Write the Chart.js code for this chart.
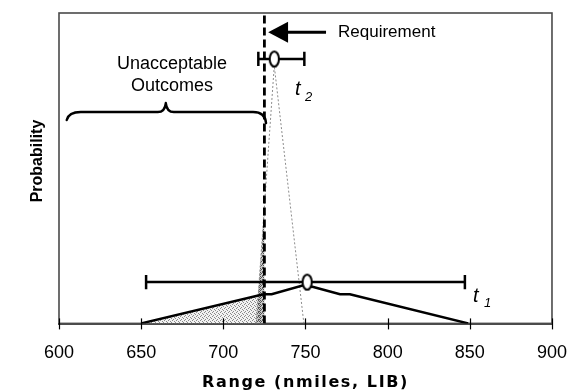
<!DOCTYPE html>
<html><head><meta charset="utf-8">
<script src="https://cdn.jsdelivr.net/npm/chart.js@4/dist/chart.umd.min.js"></script>
<style>html,body{margin:0;padding:0;background:#fff}#wrap{width:569px;height:390px;position:relative}</style>
</head><body><div id="wrap"><canvas id="c" width="569" height="390"></canvas></div>
<script>
// ---- data ----
const xTicks = [600, 650, 700, 750, 800, 850, 900];
const requirement = 725;
// t1 distribution (hand drawn triangle)
const t1X = [650, 724.4, 729.4, 748.7, 754.8, 771, 777, 849];
const t1Y = [0, 0.094, 0.094, 0.123, 0.117, 0.094, 0.094, 0];
// shaded part of t1 below requirement
const t1ShadeX = [650, 724.4, 725];
const t1ShadeY = [0, 0.094, 0.094];
// t2 distribution (narrow triangle)
const t2X = [720, 731, 749];
const t2Y = [0, 0.83, 0];
const t2ShadeX = [720, 725];
const t2ShadeY = [0, 0.377];
// error bars: [low, mean, high], level
const t1Bar = [653, 751, 847];
const t1Level = 0.133;
const t2Bar = [721.3, 731, 749.3];
const t2Level = 0.852;
const capHalf = 0.023;
// annotations
const arrow = {tip: 727.3, head: 739.4, tail: 762.5, y: 0.938};
const brace = {left: 604.7, mid: 665, right: 726, y: 0.681};

const pts = (xs, ys) => xs.map((x, i) => ({x: x, y: ys[i]}));

const canvas = document.getElementById('c');
const ctx0 = canvas.getContext('2d');
function stipple(color, dots, bg) {
  const c = document.createElement('canvas'); c.width = 4; c.height = 4;
  const g = c.getContext('2d');
  if (bg) { g.fillStyle = bg; g.fillRect(0, 0, 4, 4); }
  g.fillStyle = color;
  dots.forEach(d => g.fillRect(d[0], d[1], 1, 1));
  return ctx0.createPattern(c, 'repeat');
}
const lightFill = stipple('#8a8a8a', [[0,0],[2,1],[1,3],[3,2]], '#f2f2f2');
const darkFill = stipple('#555', [[0,0],[2,0],[1,1],[3,1],[0,2],[2,3],[3,3]], '#c8c8c8');

function ellipseMarker() {
  const c = document.createElement('canvas'); c.width = 13; c.height = 19;
  const g = c.getContext('2d');
  g.beginPath(); g.ellipse(6.5, 9.5, 4.6, 7.6, 0, 0, Math.PI * 2);
  g.fillStyle = '#fff'; g.fill(); g.lineWidth = 2; g.strokeStyle = '#000'; g.stroke();
  return c;
}
const marker = ellipseMarker();

function bar(b, lvl) { return [{x: b[0], y: lvl}, {x: b[2], y: lvl}]; }
function cap(x, lvl) { return [{x: x, y: lvl - capHalf}, {x: x, y: lvl + capHalf}]; }

const lineDs = (data, extra) => Object.assign({data: data, borderColor: '#000', borderWidth: 2.5, pointRadius: 0, fill: false, tension: 0}, extra || {});

const datasets = [
  lineDs([{x: t1Bar[1], y: t1Level}, {x: t2Bar[1], y: t2Level}], {showLine: false, pointRadius: 6, pointStyle: marker, order: 0}),
  lineDs(bar(t1Bar, t1Level), {order: 1}),
  lineDs(cap(t1Bar[0], t1Level), {order: 1}),
  lineDs(cap(t1Bar[2], t1Level), {order: 1}),
  lineDs(bar(t2Bar, t2Level), {order: 1}),
  lineDs(cap(t2Bar[0], t2Level), {order: 1}),
  lineDs(cap(t2Bar[2], t2Level), {order: 1}),
  lineDs([{x: requirement, y: 0}, {x: requirement, y: 1}], {borderWidth: 2.8, borderDash: [8, 4], order: 2}),
  lineDs(pts(t1X, t1Y), {borderWidth: 2.5, order: 3}),
  lineDs(pts(t2X, t2Y), {borderWidth: 1, borderColor: '#8c8c8c', borderDash: [2, 2], order: 4}),
  lineDs(pts(t2ShadeX, t2ShadeY), {borderWidth: 0, borderColor: 'rgba(0,0,0,0)', fill: 'origin', backgroundColor: darkFill, order: 5}),
  lineDs(pts(t1ShadeX, t1ShadeY), {borderWidth: 0, borderColor: 'rgba(0,0,0,0)', fill: 'origin', backgroundColor: lightFill, order: 6})
];

const deco = {
  id: 'deco',
  beforeDatasetsDraw(chart) {
    const {ctx, chartArea: a} = chart;
    ctx.save();
    ctx.strokeStyle = '#4a4a4a'; ctx.lineWidth = 1.6;
    ctx.strokeRect(a.left, a.top, a.right - a.left, a.bottom - a.top);
    ctx.restore();
  },
  afterDatasetsDraw(chart) {
    const {ctx, chartArea: a, scales: {x, y}} = chart;
    ctx.save();
    // tick marks crossing the axis
    ctx.strokeStyle = '#000'; ctx.lineWidth = 1.2;
    x.ticks.forEach(t => {
      const px = Math.round(x.getPixelForValue(t.value)) + 0.5;
      ctx.beginPath(); ctx.moveTo(px, a.bottom - 5); ctx.lineTo(px, a.bottom + 6); ctx.stroke();
    });
    // requirement arrow
    const ay = y.getPixelForValue(arrow.y);
    const tip = x.getPixelForValue(arrow.tip), head = x.getPixelForValue(arrow.head), tail = x.getPixelForValue(arrow.tail);
    ctx.fillStyle = '#000';
    ctx.beginPath(); ctx.moveTo(tip, ay); ctx.lineTo(head, ay - 10.5); ctx.lineTo(head, ay + 10.5); ctx.closePath(); ctx.fill();
    ctx.lineWidth = 3.2; ctx.beginPath(); ctx.moveTo(head - 1, ay); ctx.lineTo(tail, ay); ctx.stroke();
    // brace
    const L = x.getPixelForValue(brace.left), M = x.getPixelForValue(brace.mid), R = x.getPixelForValue(brace.right), Y = y.getPixelForValue(brace.y);
    ctx.lineWidth = 2.4; ctx.lineJoin = 'round'; ctx.lineCap = 'round';
    ctx.beginPath();
    ctx.moveTo(L, Y + 8);
    ctx.quadraticCurveTo(L + 2, Y, L + 14, Y);
    ctx.lineTo(M - 8, Y);
    ctx.quadraticCurveTo(M - 1, Y, M, Y - 9);
    ctx.quadraticCurveTo(M + 1, Y, M + 8, Y);
    ctx.lineTo(R - 13, Y);
    ctx.quadraticCurveTo(R - 1, Y, R, Y + 11);
    ctx.stroke();
    // texts
    ctx.fillStyle = '#000'; ctx.textBaseline = 'middle';
    ctx.font = '18px "Liberation Sans", Arial, sans-serif'; ctx.textAlign = 'center';
    ctx.fillText('Unacceptable', x.getPixelForValue(668.8), y.getPixelForValue(0.835));
    ctx.fillText('Outcomes', x.getPixelForValue(668.8), y.getPixelForValue(0.765));
    ctx.textAlign = 'left'; ctx.font = '17px "Liberation Sans", Arial, sans-serif';
    ctx.fillText('Requirement', x.getPixelForValue(769.8), ay);
    ctx.font = 'italic 20px "Liberation Sans", Arial, sans-serif';
    ctx.fillText('t', x.getPixelForValue(743.6), y.getPixelForValue(0.755));
    ctx.fillText('t', x.getPixelForValue(852), y.getPixelForValue(0.087));
    ctx.font = 'italic 13px "Liberation Sans", Arial, sans-serif';
    ctx.fillText('2', x.getPixelForValue(749.7), y.getPixelForValue(0.729));
    ctx.fillText('1', x.getPixelForValue(858.7), y.getPixelForValue(0.0645));
    ctx.restore();
  },
  afterDraw(chart) {
    const {ctx, chartArea: a} = chart;
    ctx.save();
    ctx.fillStyle = '#000'; ctx.textAlign = 'center'; ctx.textBaseline = 'alphabetic';
    ctx.font = 'bold 16px "DejaVu Sans", sans-serif';
    if ('letterSpacing' in ctx) ctx.letterSpacing = '1.6px';
    ctx.fillText('Range (nmiles, LIB)', (a.left + a.right) / 2, 386.5);
    if ('letterSpacing' in ctx) ctx.letterSpacing = '0px';
    ctx.translate(42, 161); ctx.rotate(-Math.PI / 2);
    ctx.font = 'bold 16px "Liberation Sans", Arial, sans-serif';
    ctx.fillText('Probability', 0, 0);
    ctx.restore();
  }
};

new Chart(canvas, {
  type: 'line',
  data: {datasets: datasets},
  options: {
    responsive: false, animation: false, devicePixelRatio: 1,
    layout: {padding: {left: 59, right: 2, top: 13, bottom: 24}},
    plugins: {legend: {display: false}, tooltip: {enabled: false}, title: {display: false}},
    scales: {
      x: {
        type: 'linear', min: 600, max: 900,
        afterBuildTicks: s => { s.ticks = xTicks.map(v => ({value: v})); },
        ticks: {color: '#000', padding: 2, font: {family: '"Liberation Sans", Arial, sans-serif', size: 18}, maxRotation: 0},
        grid: {drawOnChartArea: false, drawTicks: true, tickLength: 17, tickColor: 'rgba(0,0,0,0)', color: 'rgba(0,0,0,0)'},
        border: {display: true, color: '#111', width: 1.8}
      },
      y: {
        type: 'linear', min: 0, max: 1, display: false
      }
    }
  },
  plugins: [deco]
});
</script>
</body></html>
